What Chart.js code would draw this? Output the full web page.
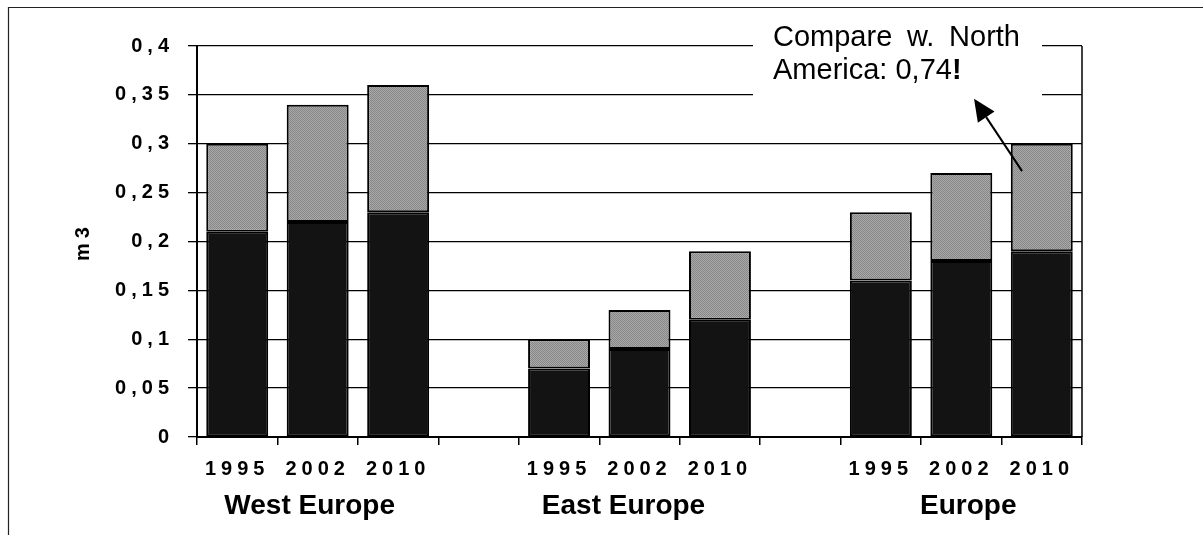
<!DOCTYPE html>
<html>
<head>
<meta charset="utf-8">
<script src="https://cdn.jsdelivr.net/npm/chart.js@4.4.1/dist/chart.umd.min.js"></script>
<style>
  html, body { margin: 0; padding: 0; background: #ffffff; }
  #wrap { position: relative; width: 1203px; height: 535px; }
</style>
</head>
<body>
<div id="wrap"><canvas id="c" width="1203" height="535"></canvas></div>
<script>
// ---- data ----
const categories = ['1995', '2002', '2010', '', '1995', '2002', '2010', '', '1995', '2002', '2010'];
const darkValues = [0.21, 0.22, 0.23, null, 0.07, 0.09, 0.12, null, 0.16, 0.18, 0.19];
const greyValues = [0.09, 0.12, 0.13, null, 0.03, 0.04, 0.07, null, 0.07, 0.09, 0.11];
const yTickLabels = ['0', '0,05', '0,1', '0,15', '0,2', '0,25', '0,3', '0,35', '0,4'];
const groupLabels = ['West Europe', 'East Europe', 'Europe'];
const groupCenterIndex = [1, 5, 9];
const yTitle = 'm3';
const noteLine1 = ['Compare', 'w.', 'North'];
const noteLine2 = 'America: 0,74';
const noteBang = '!';
const arrowTail = { cat: 9.755, value: 0.272 };
const arrowTip = { cat: 9.158, value: 0.346 };

const FONT = '"Liberation Sans", Arial, Helvetica, sans-serif';

// dithered grey pattern
function makePattern() {
  const p = document.createElement('canvas');
  p.width = 2; p.height = 2;
  const g = p.getContext('2d');
  g.fillStyle = '#a9a9a9'; g.fillRect(0, 0, 2, 2);
  g.fillStyle = '#878787'; g.fillRect(0, 0, 1, 1); g.fillRect(1, 1, 1, 1);
  return g.createPattern(p, 'repeat');
}
const greyPattern = makePattern();

const decor = {
  id: 'decor',
  beforeDraw(chart) {
    chart.ctx.letterSpacing = '5px';
  },
  beforeDatasetsDraw(chart) {
    const { ctx, chartArea } = chart;
    ctx.save();
    ctx.letterSpacing = '0px';
    // outer frame
    ctx.strokeStyle = '#222';
    ctx.lineWidth = 1.2;
    ctx.beginPath();
    ctx.moveTo(8.5, 535);
    ctx.lineTo(8.5, 7.5);
    ctx.lineTo(1203, 7.5);
    ctx.stroke();
    // right plot border
    ctx.strokeStyle = '#000';
    ctx.lineWidth = 1.5;
    ctx.beginPath();
    ctx.moveTo(chartArea.right, chartArea.top);
    ctx.lineTo(chartArea.right, chartArea.bottom);
    ctx.stroke();
    ctx.restore();
  },
  afterDraw(chart) {
    const { ctx } = chart;
    const xs = chart.scales.x, ys = chart.scales.y;
    ctx.save();
    ctx.letterSpacing = '0px';
    // group labels
    ctx.fillStyle = '#000';
    ctx.font = 'bold 28px ' + FONT;
    ctx.textAlign = 'center';
    ctx.textBaseline = 'alphabetic';
    const offs = [-8, -16, 7];
    groupLabels.forEach((t, i) => {
      ctx.fillText(t, xs.getPixelForValue(groupCenterIndex[i]) + offs[i], 514);
    });
    // annotation box
    const bx = 753, by = 9, bw = 289, bh = 89;
    ctx.fillStyle = '#fff';
    ctx.fillRect(bx, by, bw, bh);
    ctx.fillStyle = '#000';
    ctx.textAlign = 'left';
    ctx.font = '29px ' + FONT;
    const left = 773, right = 1020;
    const widths = noteLine1.map(w => ctx.measureText(w).width);
    const total = widths.reduce((a, b) => a + b, 0);
    const gap = (right - left - total) / (noteLine1.length - 1);
    let x = left;
    noteLine1.forEach((w, i) => { ctx.fillText(w, x, 46); x += widths[i] + gap; });
    ctx.fillText(noteLine2, left, 79);
    const w2 = ctx.measureText(noteLine2).width;
    ctx.font = 'bold 29px ' + FONT;
    ctx.fillText(noteBang, left + w2, 79);
    // arrow
    const tx = xs.getPixelForValue(arrowTail.cat), ty = ys.getPixelForValue(arrowTail.value);
    const hx = xs.getPixelForValue(arrowTip.cat), hy = ys.getPixelForValue(arrowTip.value);
    const ang = Math.atan2(hy - ty, hx - tx);
    const hl = 22, hw = 10;
    const bxp = hx - hl * Math.cos(ang), byp = hy - hl * Math.sin(ang);
    ctx.strokeStyle = '#000';
    ctx.lineWidth = 2;
    ctx.beginPath();
    ctx.moveTo(tx, ty);
    ctx.lineTo(bxp, byp);
    ctx.stroke();
    ctx.beginPath();
    ctx.moveTo(hx, hy);
    ctx.lineTo(bxp + hw * Math.sin(ang), byp - hw * Math.cos(ang));
    ctx.lineTo(bxp - hw * Math.sin(ang), byp + hw * Math.cos(ang));
    ctx.closePath();
    ctx.fill();
    ctx.restore();
  }
};

new Chart(document.getElementById('c'), {
  type: 'bar',
  data: {
    labels: categories,
    datasets: [
      {
        label: 'base',
        data: darkValues,
        backgroundColor: '#131313',
        borderColor: '#000',
        borderWidth: 2,
        borderSkipped: false
      },
      {
        label: 'top',
        data: greyValues,
        backgroundColor: greyPattern,
        borderColor: '#000',
        borderWidth: 2,
        borderSkipped: false
      }
    ]
  },
  options: {
    responsive: false,
    animation: false,
    devicePixelRatio: 1,
    layout: { padding: { left: 0, top: 46, right: 121, bottom: 0 } },
    plugins: { legend: { display: false }, tooltip: { enabled: false } },
    datasets: { bar: { categoryPercentage: 1, barPercentage: 0.77 } },
    scales: {
      x: {
        stacked: true,
        offset: true,
        grid: { display: true, drawOnChartArea: false, drawTicks: true, tickLength: 8, color: '#000', lineWidth: 1.5, offset: true },
        border: { display: true, color: '#000', width: 2 },
        ticks: {
          autoSkip: false, maxRotation: 0, minRotation: 0,
          color: '#000', padding: 12,
          font: { family: FONT, size: 20, weight: 'bold' }
        },
        afterFit(s) { s.height = 98; }
      },
      y: {
        stacked: true,
        min: 0, max: 0.4,
        grid: { color: '#000', lineWidth: 1.3, tickLength: 9, drawTicks: true },
        border: { display: true, color: '#000', width: 2 },
        ticks: {
          stepSize: 0.05,
          color: '#000',
          padding: 14,
          font: { family: FONT, size: 20, weight: 'bold' },
          callback: (v, i) => yTickLabels[i]
        },
        title: {
          display: true, text: yTitle, color: '#000',
          font: { family: FONT, size: 20, weight: 'bold' },
          padding: { top: 71, bottom: 0 }
        },
        afterFit(s) { s.width = 197; }
      }
    }
  },
  plugins: [decor]
});
</script>
</body>
</html>
